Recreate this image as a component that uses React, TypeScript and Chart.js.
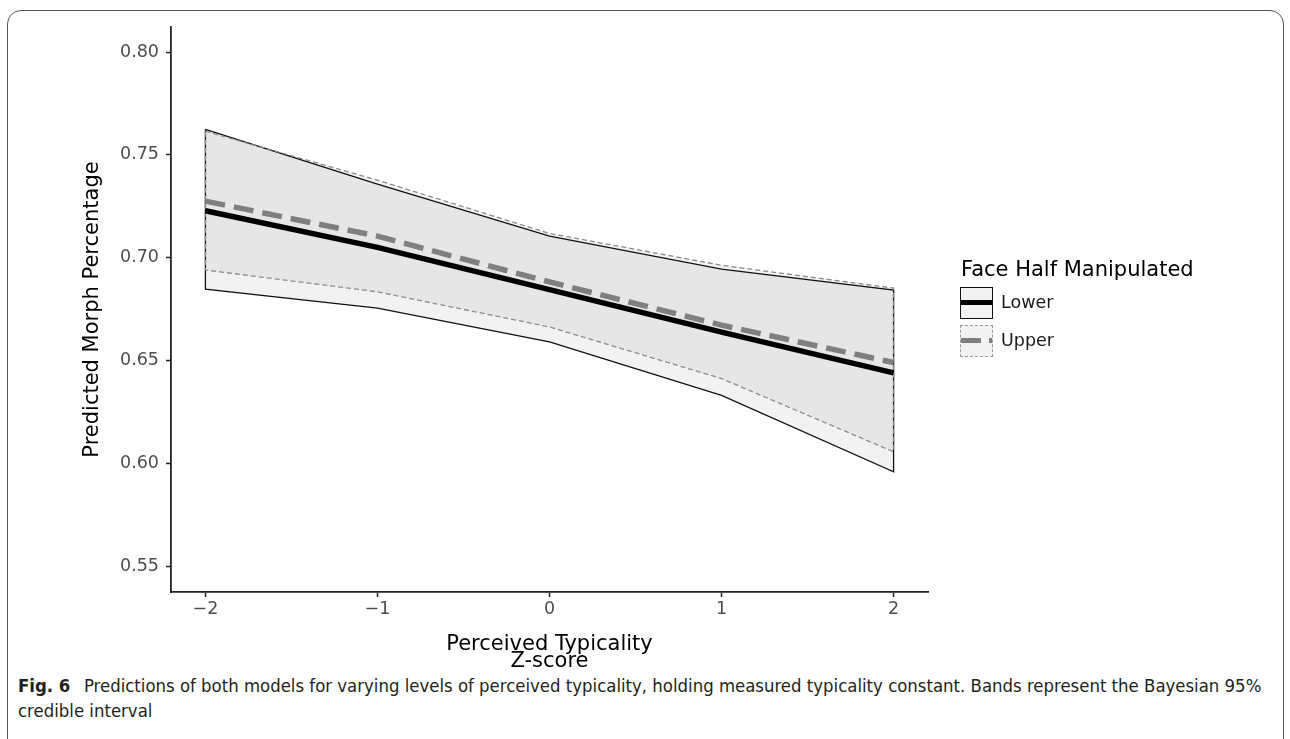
import React, { useEffect, useRef } from "react";
import { Chart, registerables } from "chart.js";

Chart.register(...registerables);

// ---- data ----
const xValues = [-2, -1, 0, 1, 2];
const lowerMean = [0.7228, 0.705, 0.6845, 0.6638, 0.644];
const upperMean = [0.7275, 0.7105, 0.6882, 0.6672, 0.649];
const lowerBandHigh = [0.7624, 0.7358, 0.7105, 0.6944, 0.6842];
const lowerBandLow = [0.6847, 0.6755, 0.659, 0.633, 0.5959];
const upperBandHigh = [0.7615, 0.7377, 0.7118, 0.6963, 0.6852];
const upperBandLow = [0.694, 0.6834, 0.6663, 0.6412, 0.6056];
const xTicks = [-2, -1, 0, 1, 2];
const yTicks = [0.55, 0.6, 0.65, 0.7, 0.75, 0.8];
const legendTitle = "Face Half Manipulated";
const seriesNames = ["Lower", "Upper"];
const xTitle = ["Perceived Typicality", "Z-score"];
const yTitle = "Predicted Morph Percentage";

const pts = (ys: number[]) => xValues.map((x, i) => ({ x, y: ys[i] }));
const polygon = (hi: number[], lo: number[]) => [
  ...pts(hi),
  ...pts(lo).reverse(),
  { x: xValues[0], y: hi[0] },
];

const FONT = "'DejaVu Sans', 'Noto Sans', sans-serif";

export default function App() {
  const ref = useRef<HTMLCanvasElement | null>(null);

  useEffect(() => {
    if (!ref.current) return;
    const chart = new Chart(ref.current, {
      type: "scatter",
      data: {
        datasets: [
          {
            label: "Lower band",
            data: polygon(lowerBandHigh, lowerBandLow),
            showLine: true,
            fill: "shape",
            backgroundColor: "rgba(0,0,0,0.05)",
            borderColor: "#111",
            borderWidth: 1.3,
            pointRadius: 0,
            tension: 0,
            order: 4,
          } as any,
          {
            label: "Upper band",
            data: polygon(upperBandHigh, upperBandLow),
            showLine: true,
            fill: "shape",
            backgroundColor: "rgba(0,0,0,0.05)",
            borderColor: "#8a8a8a",
            borderWidth: 1.3,
            borderDash: [5, 3],
            pointRadius: 0,
            tension: 0,
            order: 3,
          } as any,
          {
            label: seriesNames[0],
            data: pts(lowerMean),
            showLine: true,
            fill: false,
            borderColor: "#000",
            borderWidth: 5.5,
            borderCapStyle: "butt",
            pointRadius: 0,
            order: 2,
          } as any,
          {
            label: seriesNames[1],
            data: pts(upperMean),
            showLine: true,
            fill: false,
            borderColor: "#7f7f7f",
            borderWidth: 5.5,
            borderDash: [20, 9],
            borderCapStyle: "butt",
            pointRadius: 0,
            order: 1,
          } as any,
        ],
      },
      options: {
        responsive: false,
        animation: false,
        devicePixelRatio: 1,
        layout: { padding: { top: 27, right: 362, left: 0, bottom: 0 } },
        plugins: { legend: { display: false }, tooltip: { enabled: false } },
        scales: {
          x: {
            type: "linear",
            min: -2.2,
            max: 2.2,
            afterBuildTicks: (s: any) => {
              s.ticks = xTicks.map((v) => ({ value: v }));
            },
            afterFit: (s: any) => {
              s.height = 78;
            },
            grid: {
              drawOnChartArea: false,
              drawTicks: true,
              tickLength: 5,
              tickColor: "#222",
              tickWidth: 1.5,
            },
            border: { color: "#222", width: 1.8 },
            ticks: {
              autoSkip: false,
              maxRotation: 0,
              padding: 2,
              color: "#4d4d4d",
              font: { family: FONT, size: 17.5 },
              callback: (v: any) => (Number(v) < 0 ? "\u2212" + Math.abs(Number(v)) : String(v)),
            },
            title: {
              display: true,
              text: xTitle,
              color: "#000",
              font: { family: FONT, size: 21, lineHeight: 0.82 },
              padding: 0,
            },
          },
          y: {
            type: "linear",
            min: 0.5374,
            max: 0.8122,
            afterBuildTicks: (s: any) => {
              s.ticks = yTicks.map((v) => ({ value: v }));
            },
            afterFit: (s: any) => {
              s.width = 171;
            },
            grid: {
              drawOnChartArea: false,
              drawTicks: true,
              tickLength: 5,
              tickColor: "#222",
              tickWidth: 1.5,
            },
            border: { color: "#222", width: 1.8 },
            ticks: {
              autoSkip: false,
              padding: 7,
              color: "#4d4d4d",
              font: { family: FONT, size: 17.5 },
              callback: (v: any) => Number(v).toFixed(2),
            },
            title: {
              display: true,
              text: yTitle,
              color: "#000",
              font: { family: FONT, size: 21, lineHeight: 1.2 },
              padding: { top: 80, bottom: 0 },
            },
          },
        },
      } as any,
    });
    return () => chart.destroy();
  }, []);

  const boxBase: React.CSSProperties = {
    position: "absolute",
    left: 960,
    width: 33,
    height: 32,
    boxSizing: "border-box",
    background: "#f2f2f2",
  };
  const labelStyle: React.CSSProperties = {
    position: "absolute",
    left: 1001,
    fontFamily: FONT,
    fontSize: 17.5,
    lineHeight: "20px",
    color: "#1a1a1a",
    whiteSpace: "nowrap",
  };

  return (
    <div style={{ position: "absolute", left: 0, top: 0, width: 1290, height: 739, overflow: "hidden", background: "#fff" }}>
      <div
        style={{
          position: "absolute",
          left: 7,
          top: 10,
          width: 1277,
          height: 780,
          border: "1.5px solid #555",
          borderRadius: 14,
          boxSizing: "border-box",
        }}
      />
      <canvas ref={ref} width={1290} height={670} style={{ position: "absolute", left: 0, top: 0, width: 1290, height: 670 }} />
      <div
        style={{
          position: "absolute",
          left: 961,
          top: 259,
          fontFamily: FONT,
          fontSize: 21,
          lineHeight: "20px",
          color: "#000",
          whiteSpace: "nowrap",
        }}
      >
        {legendTitle}
      </div>
      <div style={{ ...boxBase, top: 287, border: "1.8px solid #111" }}>
        <div style={{ position: "absolute", left: 0, right: 0, top: 11.5, height: 5.5, background: "#000" }} />
      </div>
      <div style={{ ...labelStyle, top: 292 }}>{seriesNames[0]}</div>
      <div style={{ ...boxBase, top: 325, border: "1.5px dashed #999" }}>
        <div style={{ position: "absolute", left: 0, width: 20, top: 11.5, height: 5.5, background: "#7f7f7f" }} />
        <div style={{ position: "absolute", left: 28, right: 0, top: 11.5, height: 5.5, background: "#7f7f7f" }} />
      </div>
      <div style={{ ...labelStyle, top: 330 }}>{seriesNames[1]}</div>
      <div
        style={{
          position: "absolute",
          left: 18,
          top: 673,
          fontFamily: "'Liberation Sans Narrow', 'DejaVu Sans Condensed', 'Liberation Sans', sans-serif",
          fontStretch: "condensed",
          fontSize: 18.4,
          lineHeight: "25px",
          color: "#231f20",
          whiteSpace: "nowrap",
        }}
      >
        <span style={{ fontWeight: "bold" }}>Fig. 6</span>
        {"\u2002 Predictions of both models for varying levels of perceived typicality, holding measured typicality constant. Bands represent the Bayesian 95%"}
        <br />
        {"credible interval"}
      </div>
    </div>
  );
}
